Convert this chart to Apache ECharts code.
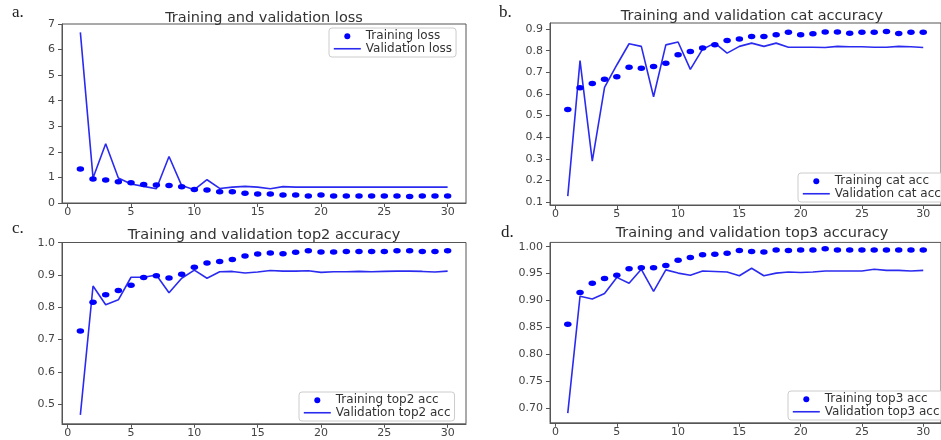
<!DOCTYPE html>
<html><head><meta charset="utf-8">
<script src="https://cdn.jsdelivr.net/npm/echarts@6/dist/echarts.min.js"></script>
<style>html,body{margin:0;padding:0;background:#fff}#c{width:941px;height:440px}</style>
</head><body><div id="c"></div>
<script>
const epochs = [1,2,3,4,5,6,7,8,9,10,11,12,13,14,15,16,17,18,19,20,21,22,23,24,25,26,27,28,29,30];

const trainLoss = [1.33,0.94,0.90,0.83,0.79,0.72,0.70,0.68,0.64,0.53,0.51,0.44,0.44,0.38,0.35,0.35,0.31,0.31,0.27,0.31,0.27,0.27,0.27,0.27,0.27,0.27,0.25,0.27,0.27,0.27];
const valLoss = [6.67,0.98,2.32,0.98,0.74,0.65,0.56,1.82,0.68,0.52,0.91,0.57,0.62,0.65,0.62,0.56,0.64,0.62,0.62,0.62,0.62,0.62,0.62,0.62,0.62,0.62,0.62,0.62,0.62,0.62];

const trainCat = [0.528,0.629,0.649,0.668,0.680,0.724,0.719,0.727,0.742,0.781,0.796,0.812,0.827,0.847,0.854,0.866,0.866,0.874,0.885,0.874,0.878,0.886,0.886,0.881,0.885,0.885,0.889,0.880,0.885,0.885];
const valCat = [0.128,0.754,0.290,0.631,0.734,0.832,0.820,0.587,0.827,0.840,0.714,0.807,0.835,0.789,0.820,0.835,0.820,0.835,0.816,0.816,0.816,0.815,0.820,0.818,0.818,0.816,0.816,0.820,0.818,0.815];

const trainTop2 = [0.727,0.816,0.839,0.852,0.868,0.892,0.898,0.891,0.902,0.924,0.937,0.942,0.948,0.959,0.965,0.968,0.966,0.970,0.975,0.971,0.971,0.973,0.973,0.973,0.973,0.975,0.975,0.973,0.973,0.975];
const valTop2 = [0.467,0.866,0.808,0.823,0.893,0.893,0.900,0.845,0.890,0.915,0.890,0.910,0.911,0.906,0.909,0.914,0.912,0.912,0.913,0.908,0.910,0.910,0.911,0.910,0.911,0.912,0.912,0.911,0.909,0.912];

const trainTop3 = [0.856,0.915,0.932,0.941,0.947,0.959,0.961,0.961,0.965,0.975,0.980,0.985,0.986,0.988,0.993,0.991,0.990,0.994,0.993,0.994,0.994,0.996,0.994,0.994,0.994,0.994,0.994,0.994,0.994,0.994];
const valTop3 = [0.691,0.908,0.903,0.913,0.943,0.932,0.958,0.917,0.957,0.951,0.947,0.955,0.954,0.953,0.946,0.960,0.946,0.951,0.953,0.952,0.953,0.955,0.955,0.955,0.955,0.958,0.956,0.956,0.955,0.956];

const titles = ['Training and validation loss','Training and validation cat accuracy','Training and validation top2 accuracy','Training and validation top3 accuracy'];
const panelLetters = ['a.','b.','c.','d.'];
const trainNames = ['Training loss','Training cat acc','Training top2 acc','Training top3 acc'];
const valNames = ['Validation loss','Validation cat acc','Validation top2 acc','Validation top3 acc'];

const xTickLabels = ['0','5','10','15','20','25','30'];
const yTickLabelsA = ['0','1','2','3','4','5','6','7'];
const yTickLabelsB = ['0.1','0.2','0.3','0.4','0.5','0.6','0.7','0.8','0.9'];
const yTickLabelsC = ['0.5','0.6','0.7','0.8','0.9','1.0'];
const yTickLabelsD = ['0.70','0.75','0.80','0.85','0.90','0.95','1.00'];

const trainSets = [trainLoss, trainCat, trainTop2, trainTop3];
const valSets = [valLoss, valCat, valTop2, valTop3];
const yTickSets = [yTickLabelsA, yTickLabelsB, yTickLabelsC, yTickLabelsD];

// layout (pixels)
const grids = [
  {left: 62, top: 24, width: 404, height: 179},
  {left: 550, top: 23, width: 404.5, height: 182},
  {left: 62, top: 242.5, width: 404, height: 181.3},
  {left: 550, top: 242.4, width: 404.5, height: 180.4}
];
const yRanges = [[0, 7], [0.087, 0.928], [0.4395, 1.0005], [0.673, 1.008]];
const titlePos = [[264, 10.5], [752, 8.5], [264, 228], [752, 226]];
const letterPos = [[12, 4], [499, 4], [12, 220], [501, 224]];
const legendPos = [[329, 28], [798, 173], [299, 392], [788, 391]];

const axisColor = '#555';
const tickFont = {color: '#444', fontSize: 11, fontFamily: 'DejaVu Sans'};
const lineColor = '#2b2bf0';

function labelFor(list) {
  return function (v) {
    for (const s of list) { if (Math.abs(Number(s) - v) < 1e-9) return s; }
    return '';
  };
}

const option = {
  animation: false,
  backgroundColor: '#fff',
  title: [],
  grid: [],
  xAxis: [],
  yAxis: [],
  legend: [],
  series: []
};

for (let i = 0; i < 4; i++) {
  option.grid.push(Object.assign({show: true, borderColor: axisColor, borderWidth: 1, backgroundColor: '#fff', containLabel: false}, grids[i]));
  option.title.push({
    text: titles[i], left: titlePos[i][0], top: titlePos[i][1], textAlign: 'center', padding: 0,
    textStyle: {fontFamily: 'DejaVu Sans', fontSize: 14.5, fontWeight: 'normal', color: '#333'}
  });
  option.title.push({
    text: panelLetters[i], left: letterPos[i][0], top: letterPos[i][1], padding: 0,
    textStyle: {fontFamily: 'Liberation Serif', fontSize: 17, fontWeight: 'normal', color: '#222'}
  });
  const xVals = xTickLabels.map(Number);
  option.xAxis.push({
    type: 'value', gridIndex: i, min: -0.45, max: 31.45,
    axisLine: {show: true, onZero: false, lineStyle: {color: axisColor, width: 1}},
    axisTick: {show: true, length: 4, customValues: xVals, lineStyle: {color: axisColor}},
    axisLabel: Object.assign({customValues: xVals, margin: 4, formatter: labelFor(xTickLabels)}, tickFont),
    splitLine: {show: false}
  });
  const yVals = yTickSets[i].map(Number);
  option.yAxis.push({
    type: 'value', gridIndex: i, min: yRanges[i][0], max: yRanges[i][1],
    axisLine: {show: true, onZero: false, lineStyle: {color: axisColor, width: 1}},
    axisTick: {show: true, length: 4, customValues: yVals, lineStyle: {color: axisColor}},
    axisLabel: Object.assign({customValues: yVals, margin: 7, formatter: labelFor(yTickSets[i])}, tickFont),
    splitLine: {show: false}
  });
  option.series.push({
    name: trainNames[i], type: 'scatter', xAxisIndex: i, yAxisIndex: i,
    data: epochs.map((e, k) => [e, trainSets[i][k]]),
    symbol: 'circle', symbolSize: [7.5, 5.5],
    itemStyle: {color: '#0000ff', opacity: 1}, z: 3
  });
  option.series.push({
    name: valNames[i], type: 'line', xAxisIndex: i, yAxisIndex: i,
    data: epochs.map((e, k) => [e, valSets[i][k]]),
    symbol: 'none', showSymbol: false,
    lineStyle: {color: lineColor, width: 1.6}, itemStyle: {color: lineColor}, z: 2
  });
  option.legend.push({
    data: [
      {name: trainNames[i], icon: 'circle'},
      {name: valNames[i], itemStyle: {opacity: 0}, lineStyle: {color: lineColor, width: 1.6, opacity: 1}}
    ],
    orient: 'vertical', left: legendPos[i][0], top: legendPos[i][1],
    itemWidth: 27, itemHeight: 6, itemGap: 0, itemTextGap: 8,
    padding: [2, 4, 2, 4],
    backgroundColor: 'rgba(255,255,255,0.85)', borderColor: '#ccc', borderWidth: 1, borderRadius: 3,
    textStyle: {fontFamily: 'DejaVu Sans', fontSize: 12, color: '#333', lineHeight: 12.5},
    selectedMode: false
  });
}

const chart = echarts.init(document.getElementById('c'), null, {renderer: 'canvas'});
chart.setOption(option);
</script>
</body></html>
